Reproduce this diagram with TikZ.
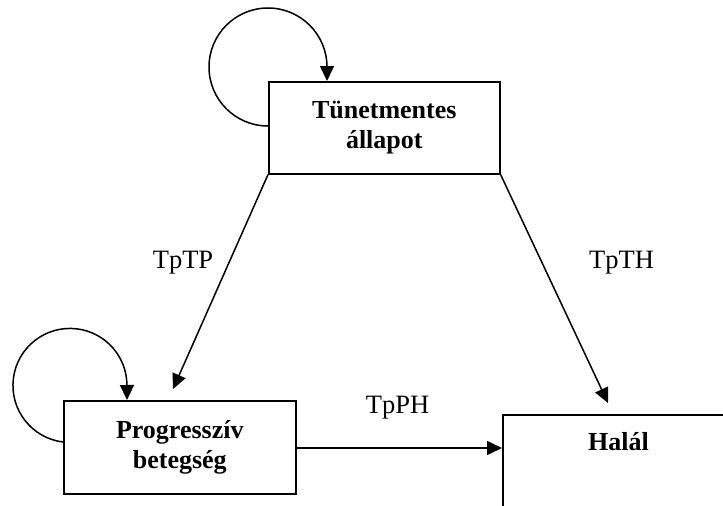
\documentclass[tikz,border=0pt]{standalone}
\usepackage{fontspec}
\setmainfont{Liberation Serif}
\usetikzlibrary{arrows.meta}
\begin{document}
\begin{tikzpicture}[x=1pt,y=-1pt,
  box/.style={draw,line width=1.6pt,inner sep=0pt},
  lbl/.style={font=\fontsize{26.5}{30}\selectfont,anchor=base,inner sep=0pt},
  btxt/.style={font=\fontsize{26}{30}\selectfont\bfseries,align=center,inner sep=0pt},
  conn/.style={line width=1.5pt,-{Triangle[length=15pt,width=14pt]}}]
\useasboundingbox (0,0) rectangle (723,506);
\clip (0,0) rectangle (723,506);
% boxes
\node[box,minimum width=231pt,minimum height=92pt,anchor=north west] (t) at (268,81) {};
\node[btxt] at (t.center) {Tünetmentes\\állapot};
\node[box,minimum width=232pt,minimum height=93pt,anchor=north west] (p) at (63,400) {};
\node[btxt] at (p.center) {Progresszív\\betegség};
\node[box,minimum width=233pt,minimum height=150pt,anchor=north west] (h) at (502,414) {};
\node[btxt,anchor=base] (ht) at (618.5,450) {Halál};
% free ends
\coordinate (e1) at (173,389);
\coordinate (e2) at (608,403);
% connectors
\draw[conn] (t.south west) -- (e1);
\draw[conn] (t.south east) -- (e2);
\draw[conn] (p.east |- 0,448) -- (h.west |- 0,448);
% loops
\draw[conn] (t.west |- 0,126) arc[start angle=90,end angle=360,radius=59] -- (t.north -| 327,0);
\draw[conn] (p.west |- 0,442) arc[start angle=97,end angle=360,radius=57] -- (p.north -| 127,0);
% labels
\node[lbl] (l1) at (183,268) {TpTP};
\node[lbl] (l2) at (621.5,268) {TpTH};
\node[lbl] (l3) at (397.5,413) {TpPH};
\end{tikzpicture}
\end{document}
